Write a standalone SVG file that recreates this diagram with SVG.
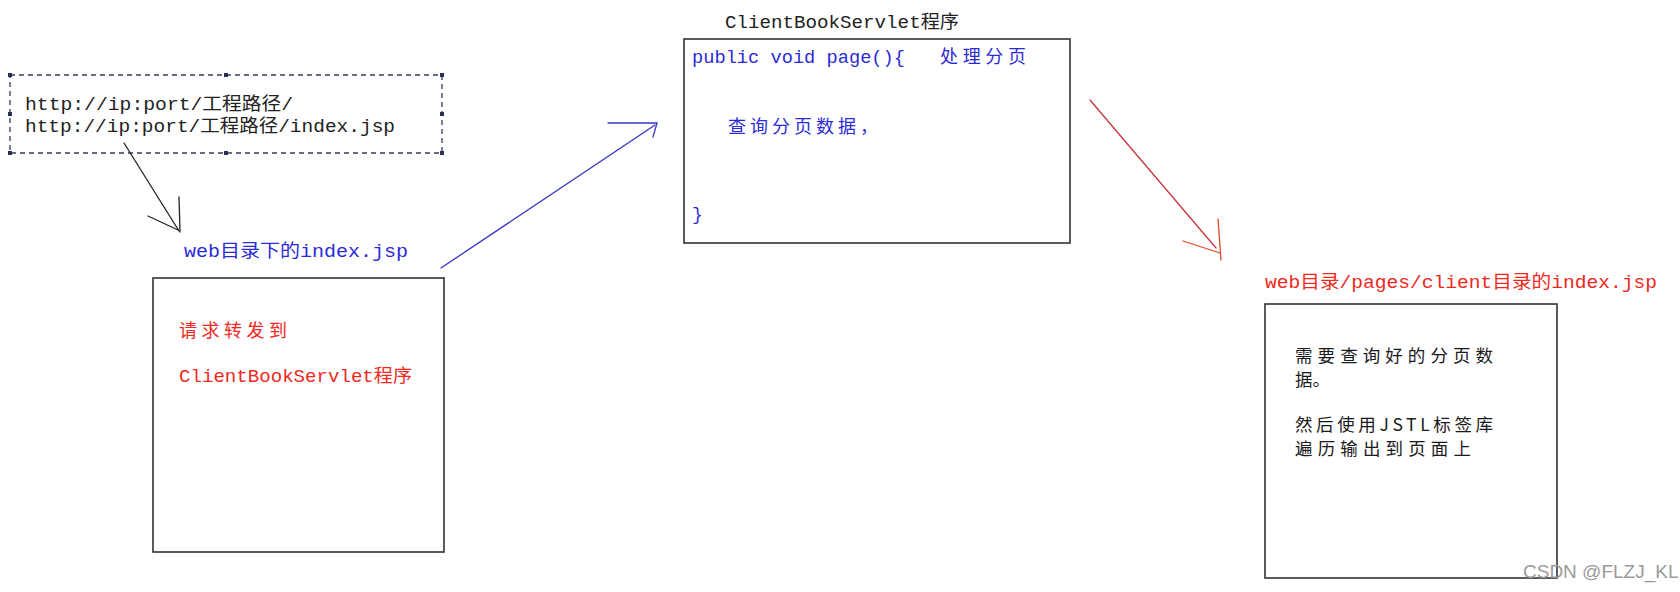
<svg xmlns="http://www.w3.org/2000/svg" width="1680" height="592" viewBox="0 0 1680 592">
<style>
  text { font-family: "Liberation Mono", "Noto Sans CJK SC", monospace; font-size: 18px; }
  .blk { fill: #222; }
  .blue { fill: #2b2bd6; }
  .red { fill: #f0281e; }
  .cjk { font-family: "Noto Sans CJK SC", sans-serif; font-size: 17.5px; fill: #1a1a1a; }
  .box { fill: #ffffff; stroke: #333; stroke-width: 1.6; }
  .dash { fill: none; stroke: #333a5a; stroke-width: 1.3; stroke-dasharray: 5 4; }
  .handle { fill: #2a2f55; }
  .conn { fill: none; stroke-width: 1.3; stroke-linecap: round; }
  .wm { font-family: "Liberation Sans", "Noto Sans", sans-serif; font-size: 19px; fill: #9a9a9a; }
</style>
<rect width="1680" height="592" fill="#ffffff"/>

<g id="url-box">
  <rect class="dash" x="10" y="75" width="432" height="78"/>
  <rect class="handle" x="8" y="73" width="4" height="4"/>
  <rect class="handle" x="224" y="73" width="4" height="4"/>
  <rect class="handle" x="440" y="73" width="4" height="4"/>
  <rect class="handle" x="8" y="112" width="4" height="4"/>
  <rect class="handle" x="440" y="112" width="4" height="4"/>
  <rect class="handle" x="8" y="151" width="4" height="4"/>
  <rect class="handle" x="224" y="151" width="4" height="4"/>
  <rect class="handle" x="440" y="151" width="4" height="4"/>
  <text class="blk" x="25" y="110" textLength="268" lengthAdjust="spacingAndGlyphs">http://ip:port/工程路径/</text>
  <text class="blk" x="25" y="132" textLength="370" lengthAdjust="spacingAndGlyphs">http://ip:port/工程路径/index.jsp</text>
</g>

<g id="web-index">
  <text class="blue" x="184" y="257" textLength="224" lengthAdjust="spacingAndGlyphs">web目录下的index.jsp</text>
  <rect class="box" x="153" y="278" width="291" height="274"/>
  <text class="red" x="179" y="337" textLength="108" lengthAdjust="spacing">请求转发到</text>
  <text class="red" x="179" y="382" textLength="233" lengthAdjust="spacingAndGlyphs">ClientBookServlet程序</text>
</g>

<g id="servlet">
  <text class="blk" x="725" y="28" textLength="234" lengthAdjust="spacingAndGlyphs">ClientBookServlet程序</text>
  <rect class="box" x="684" y="39" width="386" height="204"/>
  <text class="blue" x="692" y="63" textLength="213" lengthAdjust="spacingAndGlyphs">public void page(){</text>
  <text class="blue" x="940" y="63" textLength="86" lengthAdjust="spacing">处理分页</text>
  <text class="blue" x="728" y="133" textLength="150" lengthAdjust="spacing">查询分页数据，</text>
  <text class="blue" x="692" y="220">}</text>
</g>

<g id="client-index">
  <text class="red" x="1265" y="288" textLength="392" lengthAdjust="spacingAndGlyphs">web目录/pages/client目录的index.jsp</text>
  <rect class="box" x="1265" y="304" width="292" height="274"/>
  <text class="cjk" x="1295" y="362" textLength="198" lengthAdjust="spacing">需要查询好的分页数</text>
  <text class="cjk" x="1295" y="386">据。</text>
  <text class="cjk" x="1295" y="431" textLength="198" lengthAdjust="spacing">然后使用JSTL标签库</text>
  <text class="cjk" x="1295" y="455" textLength="176" lengthAdjust="spacing">遍历输出到页面上</text>
</g>

<g id="connectors">
  <path class="conn" stroke="#222" d="M124 143 L179 231"/>
  <path class="conn" stroke="#222" d="M179 197 L180 232 M148 216 L178 230"/>
  <path class="conn" stroke="#3434c8" d="M441 268 L655 125"/>
  <path class="conn" stroke="#3434c8" d="M608 123 L657 123 L653 137"/>
  <path class="conn" stroke="#c8343c" d="M1090 100 L1216 248"/>
  <path class="conn" stroke="#e0482a" stroke-width="1.6" d="M1218 219 L1221 260 M1183 241 L1220 253"/>
</g>

<text class="wm" x="1523" y="578">CSDN @FLZJ_KL</text>
</svg>
